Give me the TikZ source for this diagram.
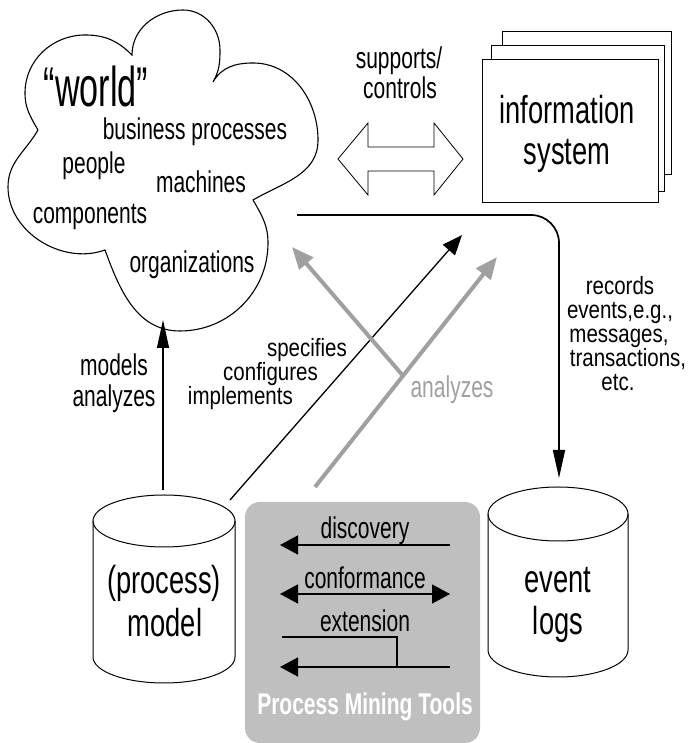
\documentclass[tikz,border=0pt]{standalone}
\usepackage{fontspec}
\setmainfont[FakeStretch=0.7]{Liberation Sans}
\newfontfamily\worldfont[FakeStretch=0.61]{Liberation Sans}
\newfontfamily\recfont[FakeStretch=0.82]{Liberation Sans}
\usetikzlibrary{arrows.meta,calc}
\definecolor{boxgray}{RGB}{191,191,191}
\definecolor{arrgray}{RGB}{160,160,160}
\begin{document}
\begin{tikzpicture}[x=1pt,y=1pt,
  lbl/.style={font=\fontsize{30}{30}\selectfont,inner sep=0pt,anchor=base},
  tightlbl/.style={font=\recfont\fontsize{25}{25}\selectfont,inner sep=0pt,anchor=base},
  bigl/.style={font=\fontsize{39}{39}\selectfont,inner sep=0pt,anchor=base},
  outline/.style={line width=1.1pt},
  infobox/.style={draw,line width=1pt,fill=white,inner sep=0pt},
  thinhead/.style={-{Triangle[length=28pt,width=12pt]}},
  blackarrow/.style={line width=1.3pt,-{Triangle[length=20pt,width=16pt]}},
  grayarrow/.style={draw=arrgray,line width=4pt,-{Triangle[length=22pt,width=18pt]}},
  toolarrow/.style={line width=1.6pt,-{Triangle[length=18pt,width=19pt]}},
  tooldouble/.style={line width=1.6pt,{Triangle[length=18pt,width=19pt]}-{Triangle[length=18pt,width=19pt]}},
  cylline/.style={line width=1pt}
]
\useasboundingbox (0,0) rectangle (687,743);

% cloud "world"
\draw[outline,fill=white] (38,613) to[out=120,in=-90] (25,650) to[out=90,in=180] (85,708) to[out=0,in=135] (132,688)
  to[out=90,in=180] (183,733) to[out=0,in=90] (220,693) to[out=-90,in=60] (213,661)
  to[out=60,in=180] (253,680) to[out=0,in=90] (318,603) to[out=-90,in=30] (253,543)
  to[out=-60,in=90] (268,500) to[out=-90,in=0] (180,412) to[out=180,in=-70] (105,493)
  to[out=200,in=-90] (8,556) to[out=90,in=-120] (38,613);
\node[inner sep=0pt,anchor=base,font=\worldfont\fontsize{56}{56}\selectfont] (world) at (96,636) {“world”};
\node[lbl] (bp) at (195,603) {business processes};
\node[lbl] (people) at (94,569) {people};
\node[lbl] (mach) at (201,550) {machines};
\node[lbl] (comp) at (90,519) {components};
\node[lbl] (org) at (192,470) {organizations};

% supports / controls
\node[lbl] (sup) at (399,674) {supports/};
\node[lbl] (ctl) at (400,644) {controls};
\draw[line width=0.8pt,fill=white] (338,584) -- (368,620) -- (368,596) -- (434,596) -- (434,620) -- (463,584)
  -- (434,548) -- (434,572) -- (368,572) -- (368,548) -- cycle;

% information system
\node[infobox,minimum width=169pt,minimum height=143pt] (isback) at (586.5,639.5) {};
\node[infobox,minimum width=173pt,minimum height=146pt] (ismid) at (577.5,624) {};
\node[infobox,minimum width=176pt,minimum height=143pt] (isfront) at (570,611.5) {};
\node[bigl] (info1) at (567,619) {information};
\node[bigl] (info2) at (567,578) {system};

% records arrow
\coordinate (recstart) at (297,528);
\coordinate (rectip) at (559,265);
\draw[line width=1.7pt,rounded corners=28pt,thinhead] (recstart) -| (rectip);
\node[tightlbl] (r1) at (620,448) {records};
\node[tightlbl] (r2) at (620,424) {events,e.g.,};
\node[tightlbl] (r3) at (619,400) {messages,};
\node[tightlbl] (r4) at (628,376) {transactions,};
\node[tightlbl] (r5) at (618,352) {etc.};

% cylinders
\draw[cylline,fill=white] (93,222) -- (93,86) arc[start angle=180,end angle=360,x radius=71,y radius=26] -- (235,222);
\draw[cylline] (164,222) ellipse[x radius=71,y radius=26];
\node[bigl] (pm1) at (164,149) {(process)};
\node[bigl] (pm2) at (165,106) {model};
\draw[cylline,fill=white] (488,229) -- (488,93) arc[start angle=180,end angle=360,x radius=70,y radius=27] -- (628,229);
\draw[cylline] (558,229) ellipse[x radius=70,y radius=27];
\node[bigl] (el1) at (558,150) {event};
\node[bigl] (el2) at (558,108) {logs};

% models / analyzes arrow
\coordinate (pmtop) at (163,253);
\coordinate (cloudbot) at (163,423);
\draw[line width=1.3pt,thinhead] (pmtop) -- (cloudbot);
\node[lbl] (ma1) at (114,367) {models};
\node[lbl] (ma2) at (114,336) {analyzes};

% specifies arrow
\coordinate (spstart) at (230,243);
\coordinate (sptip) at (462,508);
\draw[blackarrow] (spstart) -- (sptip);
\node[tightlbl,anchor=base east] (sp1) at (347,386) {specifies};
\node[tightlbl,anchor=base east] (sp2) at (318,362) {configures};
\node[tightlbl,anchor=base east] (sp3) at (293,338) {implements};

% gray analyzes arrows
\coordinate (g2s) at (315,256);
\coordinate (g2e) at (497,486);
\coordinate (g1e) at (292,496);
\coordinate (gj) at ($(g2s)!0.4835!(g2e)$);
\draw[grayarrow] (g2s) -- (g2e);
\draw[grayarrow] (gj) -- (g1e);
\node[lbl,text=arrgray] (an) at (452,345) {analyzes};

% process mining tools
\node[fill=boxgray,rounded corners=15pt,minimum width=235pt,minimum height=241pt,inner sep=0pt] (pmt) at (362.5,120.5) {};
\node[lbl] (disc) at (365,204) {discovery};
\coordinate (d1) at (450,198);
\coordinate (d2) at (280,198);
\draw[toolarrow] (d1) -- (d2);
\node[lbl] (conf) at (365,154) {conformance};
\coordinate (c1) at (280,149);
\coordinate (c2) at (450,149);
\draw[tooldouble] (c1) -- (c2);
\node[lbl] (ext) at (365,111) {extension};
\coordinate (e0) at (282,106);
\coordinate (e1) at (397,106);
\coordinate (e2) at (397,76);
\coordinate (x1) at (450,76);
\coordinate (x2) at (280,76);
\draw[line width=1.6pt] (e0) -- (e1) -- (e2);
\draw[toolarrow] (x1) -- (x2);
\node[lbl,text=white,font=\fontsize{30}{30}\selectfont\bfseries] (pmtl) at (365,28) {Process Mining Tools};
\end{tikzpicture}
\end{document}
